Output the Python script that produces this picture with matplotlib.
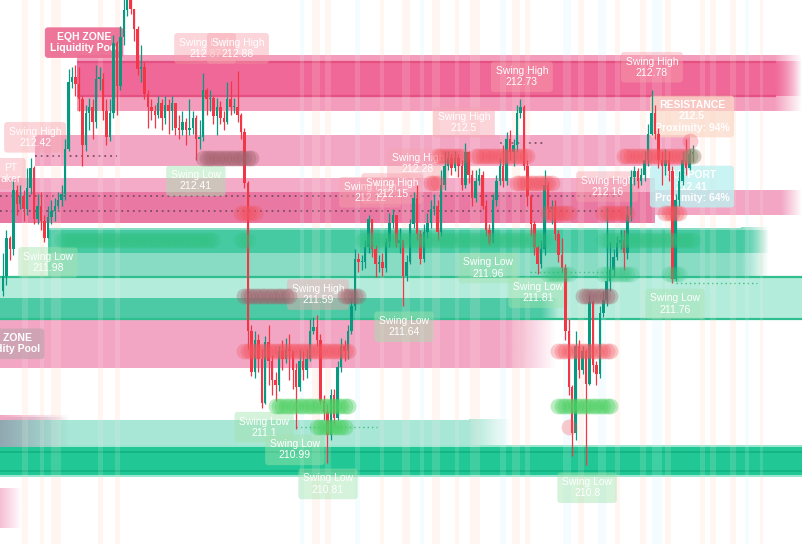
import numpy as np
import matplotlib.pyplot as plt
from matplotlib.patches import Rectangle
from matplotlib.colors import to_rgb

plt.rcParams['font.family'] = ['Liberation Sans', 'DejaVu Sans']

# ---------------- candles ----------------
open0 = 211.72
close = [211.80, 212.00, 211.94, 212.25, 212.18, 212.22, 212.15, 212.26, 212.37, 212.10,
         212.17, 212.09, 212.00, 212.11, 212.14, 212.17, 212.20, 212.23, 212.47, 212.82,
         212.85, 212.81, 212.73, 212.49, 212.66, 212.69, 212.61, 212.84, 212.84, 212.67,
         212.53, 212.66, 213.03, 212.80, 213.06, 213.20, 213.28, 213.21, 213.10, 212.89,
         212.90, 212.76, 212.69, 212.67, 212.65, 212.71, 212.63, 212.70, 212.67, 212.71,
         212.58, 212.57, 212.61, 212.57, 212.58, 212.63, 212.52, 212.53, 212.78, 212.73,
         212.74, 212.64, 212.69, 212.63, 212.61, 212.73, 212.69, 212.69, 212.65, 212.56,
         212.29, 211.51, 211.29, 211.46, 211.36, 211.13, 211.45, 211.35, 211.25, 211.22,
         211.40, 211.36, 211.41, 211.40, 211.30, 211.21, 211.35, 211.30, 211.36, 211.51,
         211.53, 211.46, 211.14, 211.08, 210.96, 211.17, 211.05, 211.32, 211.43, 211.40,
         211.51, 211.64, 211.89, 211.87, 211.87, 211.95, 212.10, 211.94, 211.86, 211.87,
         211.84, 211.98, 212.08, 212.12, 211.97, 211.99, 211.80, 211.87, 212.07, 212.21,
         212.02, 211.89, 212.03, 212.08, 212.15, 212.17, 212.03, 212.28, 212.38, 212.42,
         212.37, 212.42, 212.38, 212.28, 212.45, 212.33, 212.21, 212.30, 212.33, 212.17,
         212.04, 211.97, 212.20, 212.30, 212.38, 212.30, 212.52, 212.45, 212.49, 212.66,
         212.69, 212.38, 212.22, 212.07, 211.95, 211.86, 211.94, 212.28, 212.15, 212.16,
         212.02, 211.91, 211.84, 211.51, 211.21, 210.97, 211.43, 211.30, 211.40, 211.23,
         211.66, 211.33, 211.28, 211.60, 211.67, 211.77, 211.83, 211.90, 211.97, 211.99,
         211.92, 212.12, 212.32, 212.35, 212.30, 212.33, 212.41, 212.55, 212.66, 212.55,
         212.41, 212.38, 212.41, 212.35, 211.78, 212.20, 212.30, 212.41, 212.37, 212.44,
         212.45]
high = [211.92, 212.04, 212.01, 212.30, 212.28, 212.28, 212.25, 212.37, 212.42, 212.38,
        212.23, 212.24, 212.12, 212.17, 212.20, 212.21, 212.24, 212.28, 212.52, 212.89,
        212.90, 212.91, 212.90, 212.75, 212.70, 212.74, 212.73, 212.91, 212.90, 212.87,
        212.73, 212.73, 213.07, 213.04, 213.12, 213.26, 213.31, 213.31, 213.16, 213.12,
        213.02, 212.93, 212.78, 212.73, 212.70, 212.75, 212.73, 212.75, 212.73, 212.75,
        212.69, 212.65, 212.67, 212.63, 212.73, 212.67, 212.65, 212.62, 212.87, 212.79,
        212.78, 212.75, 212.74, 212.72, 212.67, 212.82, 212.83, 212.74, 212.88, 212.66,
        212.58, 212.30, 211.54, 211.51, 211.49, 211.41, 211.48, 211.54, 211.38, 211.29,
        211.43, 211.46, 211.47, 211.49, 211.38, 211.34, 211.41, 211.40, 211.41, 211.57,
        211.58, 211.59, 211.49, 211.17, 211.12, 211.20, 211.20, 211.35, 211.47, 211.46,
        211.54, 211.67, 211.94, 211.92, 211.91, 211.99, 212.12, 212.10, 211.96, 211.91,
        211.92, 212.00, 212.13, 212.15, 212.09, 212.05, 211.99, 211.91, 212.10, 212.24,
        212.28, 212.04, 212.07, 212.13, 212.20, 212.23, 212.20, 212.36, 212.46, 212.46,
        212.44, 212.46, 212.44, 212.41, 212.50, 212.46, 212.36, 212.36, 212.37, 212.35,
        212.20, 212.07, 212.23, 212.33, 212.42, 212.49, 212.56, 212.57, 212.52, 212.70,
        212.73, 212.70, 212.41, 212.23, 212.09, 211.96, 211.99, 212.36, 212.30, 212.20,
        212.20, 212.04, 212.00, 211.86, 211.57, 211.22, 211.51, 211.46, 211.43, 211.41,
        211.70, 211.67, 211.35, 211.64, 211.72, 212.16, 211.98, 211.94, 212.01, 212.04,
        212.04, 212.17, 212.36, 212.38, 212.37, 212.37, 212.46, 212.60, 212.78, 212.70,
        212.58, 212.46, 212.47, 212.46, 212.38, 212.23, 212.35, 212.46, 212.52, 212.47,
        212.49]
low = [211.69, 211.75, 211.88, 211.91, 212.12, 212.15, 212.09, 212.12, 212.23, 212.07,
       212.07, 212.04, 211.98, 212.00, 212.07, 212.09, 212.15, 212.17, 212.20, 212.46,
       212.79, 212.75, 212.67, 212.38, 212.46, 212.57, 212.52, 212.58, 212.78, 212.62,
       212.49, 212.51, 212.63, 212.65, 212.78, 213.02, 213.17, 213.18, 213.04, 212.86,
       212.82, 212.73, 212.58, 212.62, 212.58, 212.63, 212.57, 212.60, 212.55, 212.57,
       212.54, 212.52, 212.54, 212.49, 212.54, 212.55, 212.41, 212.47, 212.51, 212.65,
       212.67, 212.60, 212.54, 212.60, 212.57, 212.60, 212.65, 212.66, 212.61, 212.52,
       212.26, 211.41, 211.27, 211.26, 211.29, 211.10, 211.12, 211.22, 211.17, 211.14,
       211.19, 211.30, 211.34, 211.25, 211.20, 210.99, 211.19, 211.25, 211.26, 211.35,
       211.49, 211.43, 211.12, 211.04, 210.81, 210.93, 211.01, 211.04, 211.29, 211.35,
       211.36, 211.49, 211.62, 211.82, 211.83, 211.84, 211.92, 211.90, 211.79, 211.82,
       211.80, 211.82, 211.95, 212.05, 211.95, 211.92, 211.64, 211.77, 211.86, 212.05,
       211.99, 211.86, 211.87, 212.00, 212.05, 212.12, 211.99, 212.01, 212.25, 212.36,
       212.33, 212.35, 212.32, 212.25, 212.26, 212.29, 212.17, 212.19, 212.28, 212.15,
       212.01, 211.96, 211.99, 212.17, 212.28, 212.27, 212.28, 212.41, 212.38, 212.45,
       212.63, 212.36, 212.17, 212.01, 211.91, 211.81, 211.84, 211.91, 212.10, 212.07,
       211.99, 211.87, 211.82, 211.46, 211.17, 210.85, 210.93, 211.26, 211.28, 210.80,
       211.22, 211.29, 211.22, 211.26, 211.58, 211.64, 211.72, 211.80, 211.88, 211.94,
       211.83, 211.89, 212.09, 212.28, 212.26, 212.28, 212.30, 212.38, 212.54, 212.52,
       212.37, 212.28, 212.33, 212.30, 211.76, 211.77, 212.17, 212.28, 212.33, 212.36,
       212.40]

# ---------------- zones: (bar from, bar to, price bottom, price top) ----------------
eqh_zone = (21.4, 231.6, 212.67, 212.965)
eqh_core = (21.4, 231.6, 212.75, 212.93)
pink_upper = (9.3, 199.0, 212.38, 212.54)
pink_mid = (-1.0, 189.0, 212.08, 212.315)
pink_mid_core = (-1.0, 189.0, 212.08, 212.24)
pink_mid_right = (189.0, 231.6, 212.12, 212.25)
teal_zone = (13.0, 222.0, 211.79, 212.05)
teal_core = (13.0, 222.0, 211.92, 212.04)
mint_zone = (-1.0, 231.6, 211.57, 211.79)
mint_core = (-1.0, 161.0, 211.57, 211.68)
pink_lower = (-1.0, 160.0, 211.31, 211.57)
green_low = (-1.0, 147.0, 210.895, 211.04)
green_main = (-1.0, 231.6, 210.747, 210.895)
pink_tail = (-1.0, 5.5, 210.467, 210.678)

dotted_levels = [(212.43, 9.3, 33.0), (212.22, -1.0, 179.0), (212.14, -1.0, 179.0),
                 (212.50, 144.0, 157.0)]
dotted_green = [(211.00, 85.0, 108.5), (211.82, 152.8, 176.0), (211.76, 195.0, 218.6)]

# bubble rows: price, first bar, last bar
bubbles_red = [(212.43, 126, 133), (212.43, 137, 152), (212.43, 180, 200), (212.51, 199, 199),
               (211.40, 70, 100), (211.40, 161, 176), (211.00, 164, 164),
               (212.29, 149, 159), (212.29, 124, 126), (212.13, 158, 164),
               (212.13, 174, 181), (212.13, 192, 196), (212.13, 69, 73)]
bubbles_green = [(211.99, 17, 61), (211.99, 69, 71), (211.99, 104, 157), (211.99, 174, 200),
                 (211.81, 158, 164), (211.81, 174, 182), (211.81, 193, 196),
                 (212.43, 199, 200)]
bubbles_lime = [(211.11, 79, 100), (211.11, 161, 176), (211.00, 91, 99)]
bubbles_brown = [(212.42, 58, 72), (211.69, 70, 83), (211.69, 99, 103), (211.69, 168, 176)]

# session stripes: bar position, width in bars, kind
stripes = [(5.5, 1.7, 'p'), (10.7, 1.2, 'p'), (14.0, 2.9, 'p'), (27.5, 1.4, 'p'), (32.5, 1.4, 'p'),
           (86.1, 1.2, 'c'), (89.6, 2.3, 'p'), (93.3, 1.7, 'p'), (102.0, 1.4, 'c'),
           (109.3, 1.2, 'p'), (115.7, 2.3, 'p'), (120.9, 1.2, 'c'), (124.4, 2.3, 'p'),
           (131.0, 1.2, 'p'), (135.3, 2.9, 'p'), (144.1, 1.7, 'c'), (147.5, 2.3, 'p'),
           (151.3, 1.4, 'p'), (162.3, 2.3, 'c'), (166.7, 1.7, 'p'), (172.5, 2.3, 'c'),
           (177.4, 1.4, 'p'), (184.6, 1.7, 'p'), (188.1, 2.9, 'c'), (191.9, 1.7, 'p'),
           (202.0, 1.4, 'p'), (204.9, 1.7, 'p'), (210.7, 1.7, 'p'), (215.1, 1.2, 'c'),
           (219.4, 0.9, 'p')]

# labels: bar, price, text, kind
labels = [
    (58.6, 213.00, 'Swing High\n212.87', 'high'),
    (68.1, 213.00, 'Swing High\n212.88', 'high'),
    (23.5, 213.03, 'EQH ZONE\nLiquidity Pool', 'zone'),
    (9.3, 212.53, 'Swing High\n212.42', 'high'),
    (2.3, 212.34, 'PT\naker', 'high'),
    (55.9, 212.30, 'Swing Low\n212.41', 'low'),
    (120.3, 212.39, 'Swing High\n212.28', 'high'),
    (133.6, 212.61, 'Swing High\n212.5', 'high'),
    (150.4, 212.85, 'Swing High\n212.73', 'high'),
    (188.1, 212.90, 'Swing High\n212.78', 'high'),
    (199.7, 212.64, 'RESISTANCE\n212.5\nProximity: 94%', 'res'),
    (199.7, 212.27, 'SUPPORT\n212.41\nProximity: 64%', 'sup'),
    (106.4, 212.24, 'Swing High\n212.12', 'high'),
    (112.8, 212.26, 'Swing High\n212.15', 'high'),
    (175.1, 212.27, 'Swing High\n212.16', 'high'),
    (13.0, 211.87, 'Swing Low\n211.98', 'low'),
    (140.6, 211.84, 'Swing Low\n211.96', 'low'),
    (155.1, 211.71, 'Swing Low\n211.81', 'low'),
    (91.3, 211.70, 'Swing High\n211.59', 'high'),
    (116.2, 211.53, 'Swing Low\n211.64', 'low'),
    (194.8, 211.65, 'Swing Low\n211.76', 'low'),
    (0.6, 211.44, 'EQL ZONE\nLiquidity Pool', 'zone2'),
    (75.7, 211.00, 'Swing Low\n211.1', 'low'),
    (84.6, 210.88, 'Swing Low\n210.99', 'low'),
    (94.2, 210.70, 'Swing Low\n210.81', 'low'),
    (169.3, 210.68, 'Swing Low\n210.8', 'low'),
]

UP = '#089981'
DOWN = '#f23645'

fig = plt.figure(figsize=(8.02, 5.44), dpi=100)
ax = fig.add_axes([0, 0, 1, 1])
ax.set_axis_off()


def band(zone, color, alpha=1.0, fade=0.0, z=1, fade_all=False):
    x0, x1, y0, y1 = zone
    if fade_all:
        fade = x1 - x0
    xs = x1 - fade
    if xs > x0:
        ax.add_patch(Rectangle((x0, y0), xs - x0, y1 - y0, fc=color, ec='none',
                               alpha=alpha, zorder=z))
    if fade > 0:
        grad = np.zeros((1, 64, 4))
        grad[..., :3] = to_rgb(color)
        grad[..., 3] = np.linspace(alpha, 0, 64)
        ax.imshow(grad, extent=(xs, x1, y0, y1), aspect='auto',
                  interpolation='bilinear', zorder=z)


# stripes behind everything
for xs, w, k in stripes:
    ax.axvspan(xs, xs + w, color='#ffeadb' if k == 'p' else '#e3f9ff', alpha=0.35,
               lw=0, zorder=0)

# zones
band(eqh_zone, '#f397b8', 0.95, fade=8, z=1)
band(eqh_core, '#f06898', 1.0, fade=8, z=1.1)
ax.hlines([eqh_core[3], eqh_core[2]], eqh_core[0], 224, color='#e4507f', lw=1.6, zorder=1.2)

band(pink_upper, '#f3a6c4', 1.0, z=1)
band(pink_mid, '#f4abc8', 1.0, z=1)
band(pink_mid_core, '#e8739f', 0.9, z=1.1)
band(pink_mid_right, '#f2a6c4', 1.0, fade=6, z=1)

band(teal_zone, '#88dcc4', 1.0, fade=8, z=1)
band(teal_core, '#45caa2', 1.0, fade=8, z=1.1)
band(mint_zone, '#b4ecdc', 1.0, z=1)
band(mint_core, '#4ccaa6', 1.0, fade=5, z=1.1)
ax.hlines([mint_zone[3], mint_zone[2]], mint_zone[0], mint_zone[1], color='#2fbf8f',
          lw=1.6, zorder=1.2)

band(pink_lower, '#f3a6c4', 1.0, fade=14, z=1)
band(green_low, '#a8e6d6', 1.0, fade=12, z=1)
band((-1.0, 19.4, 210.895, 211.05), '#8e9cab', 0.85, z=1.2, fade_all=True)
band((-1.0, 19.4, 211.04, 211.065), '#f3a6c4', 1.0, z=1.2, fade_all=True)
band((-1.0, 231.6, 210.735, 210.907), '#9be6ce', 1.0, z=1)
band(green_main, '#21c895', 1.0, z=1.1)
ax.hlines([210.87, 210.77], -1, 231.6, color='#13b483', lw=1.3, zorder=1.2)
band(pink_tail, '#f6bcd3', 1.0, z=1, fade_all=True)

for y, x0, x1 in dotted_levels:
    ax.hlines(y, x0, x1, color='#7d4d68', lw=1.3, linestyles=(0, (1, 2.2)), zorder=1.5)
for y, x0, x1 in dotted_green:
    ax.hlines(y, x0, x1, color='#3cbf80', lw=1.0, linestyles=(0, (1, 2.2)), zorder=1.5)

# stripes veil on top of zones
for xs, w, k in stripes:
    ax.axvspan(xs, xs + w, color='#fff4ec' if k == 'p' else '#f0fcff', alpha=0.14,
               lw=0, zorder=2)

# labels
box_style = {
    'high': dict(fc='#f7a3ae', alpha=0.45, weight='normal'),
    'low': dict(fc='#a3e3ae', alpha=0.45, weight='normal'),
    'zone': dict(fc='#ec6a92', alpha=0.92, weight='bold'),
    'zone2': dict(fc='#c4a2ae', alpha=0.75, weight='bold'),
    'res': dict(fc='#fcd8c6', alpha=0.7, weight='bold'),
    'sup': dict(fc='#bdf0f0', alpha=0.8, weight='bold'),
}
for x, y, txt, kind in labels:
    st = box_style[kind]
    ax.text(x, y, txt, ha='center', va='center', fontsize=7.5, color='white',
            fontweight=st['weight'], linespacing=1.15, zorder=4,
            bbox=dict(boxstyle='round,pad=0.45,rounding_size=0.3', fc=st['fc'],
                      ec='none', alpha=st['alpha']))

# candles
opens = [open0] + close[:-1]
idx = np.arange(len(close))
for i in idx:
    o, c = opens[i], close[i]
    col = UP if c >= o else DOWN
    lo = min(low[i], o, c)
    hi = max(high[i], o, c)
    ax.vlines(i, lo, hi, color=col, lw=0.9, zorder=5)
    h = max(abs(c - o), 0.006)
    ax.bar(i, h, bottom=min(o, c), width=0.72, color=col, lw=0, zorder=5)

# bubbles
for rows, col, a in [(bubbles_red, '#f2545f', 0.3), (bubbles_green, '#2fc07a', 0.2),
                     (bubbles_lime, '#4cd062', 0.38), (bubbles_brown, '#a0606a', 0.33)]:
    for y, b0, b1 in rows:
        xs = np.arange(b0, b1 + 1)
        ax.scatter(xs, np.full(len(xs), y), s=130, color=col, alpha=a, lw=0, zorder=6)

ax.set_xlim(-0.87, 231.6)
ax.set_ylim(210.383, 213.255)
fig.savefig('out.png', dpi=100)
